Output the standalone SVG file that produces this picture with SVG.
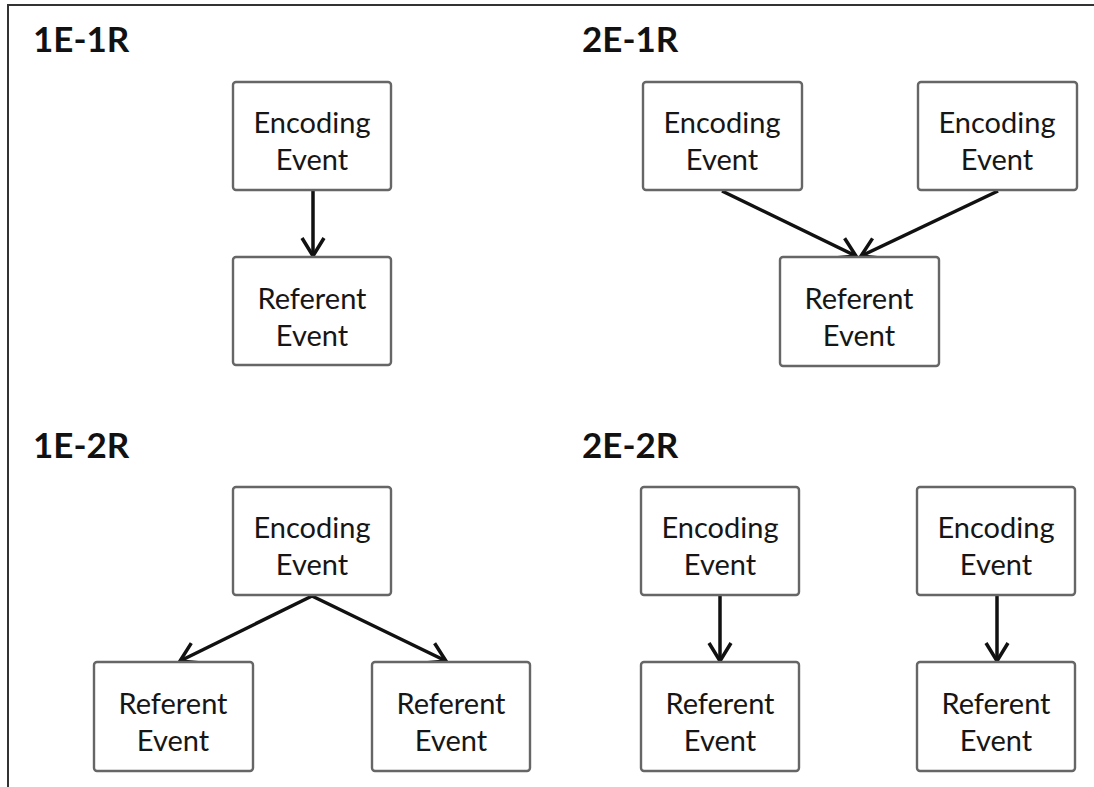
<svg xmlns="http://www.w3.org/2000/svg" width="1094" height="787" viewBox="0 0 1094 787">
<defs>
<style>
.bg{fill:#ffffff}
.frame{stroke:#333;stroke-width:2;fill:none}
.box{fill:#fff;stroke:#666;stroke-width:2.4}
.lbl{font-family:Lato,"Open Sans","Liberation Sans",sans-serif;font-size:29px;fill:#161616;text-anchor:middle}
.ttl{font-family:Lato,"Open Sans","Liberation Sans",sans-serif;font-size:35px;font-weight:bold;fill:#111}
.edge{stroke:#111;stroke-width:3.5;fill:none;marker-end:url(#arr)}
</style>
<marker id="arr" viewBox="0 0 24 26" refX="21" refY="13" markerWidth="24" markerHeight="26" markerUnits="userSpaceOnUse" orient="auto">
<path d="M3,2 L21,13 L3,24" fill="none" stroke="#111" stroke-width="3.5" stroke-linejoin="miter"/>
</marker>
</defs>
<rect class="bg" x="0" y="0" width="1094" height="787"/>
<path class="frame" d="M8,787 L8,5 L1094,5"/>

<g id="titles">
<text class="ttl" x="33" y="52">1E-1R</text>
<text class="ttl" x="582" y="52">2E-1R</text>
<text class="ttl" x="33" y="458">1E-2R</text>
<text class="ttl" x="582" y="458">2E-2R</text>
</g>

<g id="connectors">
<line class="edge" x1="313" y1="191" x2="313" y2="256"/>
<line class="edge" x1="722" y1="191" x2="856" y2="256"/>
<line class="edge" x1="998" y1="191" x2="861" y2="256"/>
<line class="edge" x1="312" y1="596" x2="180" y2="661"/>
<line class="edge" x1="312" y1="596" x2="446" y2="661"/>
<line class="edge" x1="720" y1="596" x2="720" y2="661"/>
<line class="edge" x1="997" y1="596" x2="997" y2="661"/>
</g>

<g id="n1-enc"><rect class="box" x="233" y="82" width="158" height="108" rx="3"/><text class="lbl" x="312" y="133">Encoding</text><text class="lbl" x="312" y="170">Event</text></g>
<g id="n1-ref"><rect class="box" x="233" y="257" width="158" height="108" rx="3"/><text class="lbl" x="312" y="309">Referent</text><text class="lbl" x="312" y="346">Event</text></g>

<g id="n2-enc-a"><rect class="box" x="643" y="82" width="159" height="108" rx="3"/><text class="lbl" x="722" y="133">Encoding</text><text class="lbl" x="722" y="170">Event</text></g>
<g id="n2-enc-b"><rect class="box" x="918" y="82" width="159" height="108" rx="3"/><text class="lbl" x="997" y="133">Encoding</text><text class="lbl" x="997" y="170">Event</text></g>
<g id="n2-ref"><rect class="box" x="780" y="257" width="159" height="109" rx="3"/><text class="lbl" x="859" y="309">Referent</text><text class="lbl" x="859" y="346">Event</text></g>

<g id="n3-enc"><rect class="box" x="233" y="487" width="158" height="108" rx="3"/><text class="lbl" x="312" y="538">Encoding</text><text class="lbl" x="312" y="575">Event</text></g>
<g id="n3-ref-a"><rect class="box" x="94" y="662" width="159" height="109" rx="3"/><text class="lbl" x="173" y="714">Referent</text><text class="lbl" x="173" y="751">Event</text></g>
<g id="n3-ref-b"><rect class="box" x="372" y="662" width="158" height="109" rx="3"/><text class="lbl" x="451" y="714">Referent</text><text class="lbl" x="451" y="751">Event</text></g>

<g id="n4-enc-a"><rect class="box" x="641" y="487" width="158" height="108" rx="3"/><text class="lbl" x="720" y="538">Encoding</text><text class="lbl" x="720" y="575">Event</text></g>
<g id="n4-enc-b"><rect class="box" x="917" y="487" width="158" height="108" rx="3"/><text class="lbl" x="996" y="538">Encoding</text><text class="lbl" x="996" y="575">Event</text></g>
<g id="n4-ref-a"><rect class="box" x="641" y="662" width="158" height="109" rx="3"/><text class="lbl" x="720" y="714">Referent</text><text class="lbl" x="720" y="751">Event</text></g>
<g id="n4-ref-b"><rect class="box" x="917" y="662" width="158" height="109" rx="3"/><text class="lbl" x="996" y="714">Referent</text><text class="lbl" x="996" y="751">Event</text></g>
</svg>
